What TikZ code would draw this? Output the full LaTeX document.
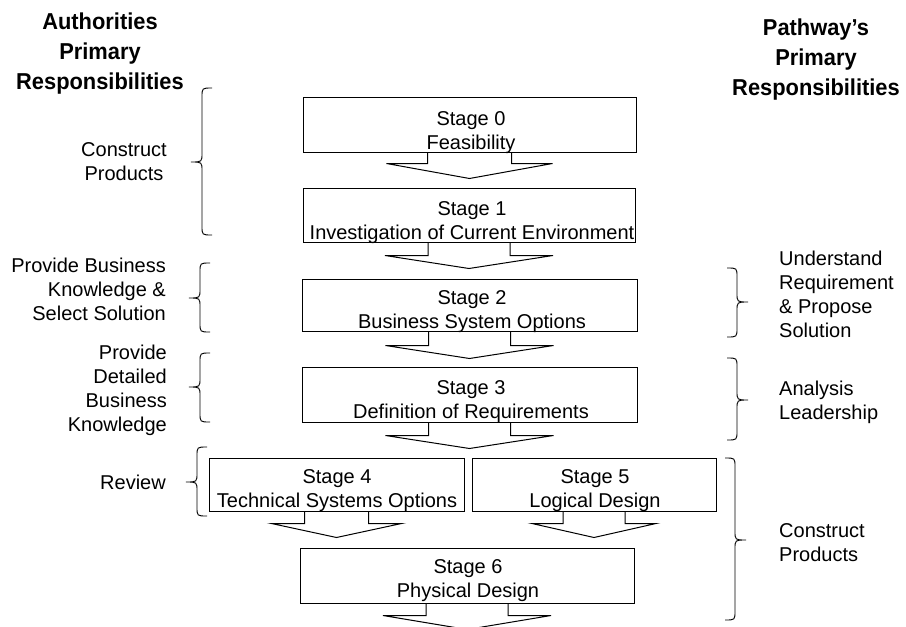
\documentclass[tikz,border=0pt]{standalone}
\usepackage{fontspec}
\setmainfont{Liberation Sans}
\newfontfamily\headfont{Liberation Sans}[FakeStretch=0.95]
\usetikzlibrary{calc}

% vertical flow arrow hanging under a stage box:
% #1 box, #2 half width of the stem, #3 half width of the head,
% #4 stem length, #5 depth of the head below the stem
\newcommand\stagearrow[5]{%
  \draw[flowline] ($(#1.south)+(-#2,0)$) -- ($(#1.south)+(-#2,#4)$)
    -- ($(#1.south)+(-#3,#4)$) -- ($(#1.south)+(0,#4+#5)$)
    -- ($(#1.south)+(#3,#4)$) -- ($(#1.south)+(#2,#4)$)
    -- ($(#1.south)+(#2,0)$);}

% curly brace: #1 x of the hooks, #2 top y, #3 bottom y, #4 y of the point,
% #5 direction of the point (-1 left, 1 right)
\newcommand\spanbrace[5]{%
  \draw[braceline] (#1,#2) .. controls ({#1+(#5)*10},#2) .. ({#1+(#5)*10},{#2+9})
    -- ({#1+(#5)*10},{#4-9}) .. controls ({#1+(#5)*10},#4) .. ({#1+(#5)*21},#4)
    .. controls ({#1+(#5)*10},#4) .. ({#1+(#5)*10},{#4+9})
    -- ({#1+(#5)*10},{#3-9}) .. controls ({#1+(#5)*10},#3) .. (#1,#3);}

\begin{document}
\begin{tikzpicture}[x=1pt,y=-1pt,
  stagebox/.style={draw, line width=1pt, inner sep=0pt},
  stagetext/.style={align=center, inner sep=0pt, font=\fontsize{20}{24}\selectfont},
  sidetext/.style={inner sep=0pt, font=\fontsize{20}{24}\selectfont},
  headtext/.style={align=center, inner sep=0pt, font=\headfont\bfseries\fontsize{23}{30}\selectfont},
  flowline/.style={line width=1pt, line join=miter},
  braceline/.style={line width=0.9pt}]
\path[use as bounding box] (0,0) rectangle (906,627);
\clip (0,0) rectangle (906,627);

% column headings
\node[headtext] (hleft) at (100,54) {Authorities\\Primary\\Responsibilities};
\node[headtext] (hright) at (816,60) {Pathway’s\\Primary\\Responsibilities};

% stage boxes
\node[stagebox, minimum width=333pt, minimum height=55pt] (s0) at (469.5,124.5) {};
\node[stagebox, minimum width=332pt, minimum height=54pt] (s1) at (469,215) {};
\node[stagebox, minimum width=335pt, minimum height=52pt] (s2) at (469.5,305) {};
\node[stagebox, minimum width=335pt, minimum height=55pt] (s3) at (469.5,394.5) {};
\node[stagebox, minimum width=255pt, minimum height=53pt] (s4) at (336.5,484.5) {};
\node[stagebox, minimum width=244pt, minimum height=53pt] (s5) at (594,484.5) {};
\node[stagebox, minimum width=334pt, minimum height=55pt] (s6) at (467,575.5) {};

% stage captions
\node[stagetext] (t0) at (471,133) {Stage 0\\Feasibility};
\node[stagetext] (t1) at (472,223) {Stage 1\\Investigation of Current Environment};
\node[stagetext] (t2) at (472,312) {Stage 2\\Business System Options};
\node[stagetext] (t3) at (471,402) {Stage 3\\Definition of Requirements};
\node[stagetext] (t4) at (337,491) {Stage 4\\Technical Systems Options};
\node[stagetext] (t5) at (595,491) {Stage 5\\Logical Design};
\node[stagetext] (t6) at (468,581) {Stage 6\\Physical Design};

% flow arrows
\stagearrow{s0}{42}{83}{11}{15}
\stagearrow{s1}{41}{84}{13}{13}
\stagearrow{s2}{41}{84}{14}{13}
\stagearrow{s3}{41}{84}{13}{13}
\stagearrow{s4}{32}{65}{12}{14}
\stagearrow{s5}{31}{62}{12}{14}
\stagearrow{s6}{41}{84}{12}{14}

% left-hand responsibilities
\node[sidetext, align=center] (l1) at (124,161.5) {Construct\\Products};
\node[sidetext, align=right, anchor=east] (l2) at (166,289) {Provide Business\\Knowledge \&\\Select Solution};
\node[sidetext, align=right, anchor=east] (l3) at (167,390) {Provide\\Detailed\\Business\\Knowledge};
\node[sidetext, anchor=east] (l4) at (166,482) {Review};

\spanbrace{212}{88}{235}{162}{-1}
\spanbrace{210}{263}{332}{298}{-1}
\spanbrace{210}{353}{422}{387}{-1}
\spanbrace{207}{447}{516}{482}{-1}

% right-hand responsibilities
\node[sidetext, align=left, anchor=west] (r1) at (779,294.5) {Understand\\Requirement\\\& Propose\\Solution};
\node[sidetext, align=left, anchor=west] (r2) at (779,402) {Analysis\\Leadership};
\node[sidetext, align=left, anchor=west] (r3) at (779,542.5) {Construct\\Products};

\spanbrace{727}{268}{337}{302}{1}
\spanbrace{727}{358}{440}{400}{1}
\spanbrace{725}{458}{620}{540}{1}
\end{tikzpicture}
\end{document}
